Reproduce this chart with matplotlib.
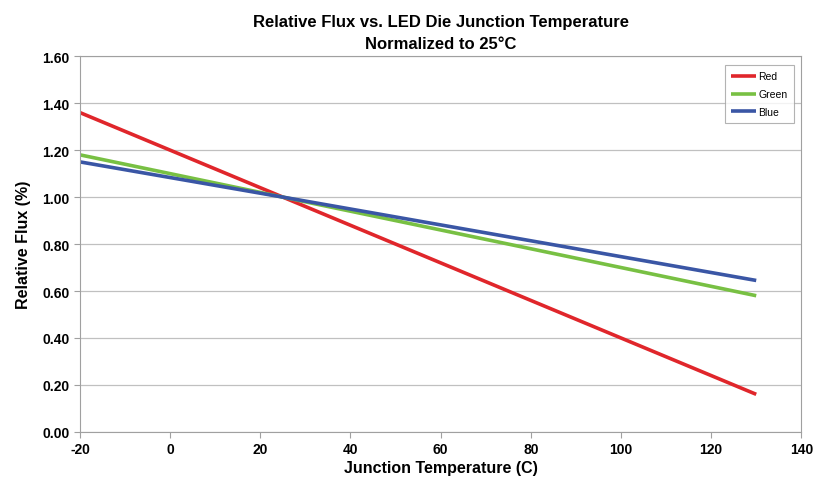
import matplotlib
matplotlib.use("Agg")
import matplotlib.pyplot as plt

temps = [-20, 25, 130]
red = [1.36, 1.00, 0.16]
green = [1.18, 1.00, 0.58]
blue = [1.15, 1.00, 0.645]
series_names = ["Red", "Green", "Blue"]
colors = ["#e0262b", "#78c043", "#3a56a5"]
xticks = [-20, 0, 20, 40, 60, 80, 100, 120, 140]
yticks = [0.0, 0.2, 0.4, 0.6, 0.8, 1.0, 1.2, 1.4, 1.6]

plt.rcParams['font.family'] = ['Liberation Sans', 'DejaVu Sans']
fig = plt.figure(figsize=(8.16, 4.81), dpi=100)
ax = fig.add_axes([0.098, 0.100, 0.884, 0.781])

for vals, name, c in zip([red, green, blue], series_names, colors):
    ax.plot(temps, vals, color=c, lw=2.6, label=name, solid_capstyle='butt')

ax.set_xlim(-20, 140)
ax.set_ylim(0, 1.6)
ax.set_xticks(xticks)
ax.set_yticks(yticks)
ax.set_xticklabels([str(t) for t in xticks], fontsize=10, fontweight='bold')
ax.set_yticklabels([f"{v:.2f}" for v in yticks], fontsize=10, fontweight='bold')
ax.yaxis.grid(True, color='#c0c0c0', lw=0.9)
ax.set_axisbelow(True)
for s in ax.spines.values():
    s.set_color('#a0a0a0')
ax.tick_params(axis='x', length=4, color='#a0a0a0', direction='out')
ax.tick_params(axis='y', length=4, color='#a0a0a0', direction='out')

ax.set_xlabel("Junction Temperature (C)", fontsize=11.5, fontweight='bold', labelpad=3)
ax.set_ylabel("Relative Flux (%)", fontsize=11.5, fontweight='bold', labelpad=8)
ax.set_title("Relative Flux vs. LED Die Junction Temperature\nNormalized to 25°C",
             fontsize=12, fontweight='bold', pad=6, linespacing=1.55)

leg = ax.legend(loc='upper right', fontsize=7.5, frameon=True, fancybox=False,
                handlelength=2.4, handletextpad=0.2, borderpad=0.6,
                labelspacing=0.75, bbox_to_anchor=(0.997, 0.99))
leg.get_frame().set_edgecolor('#a0a0a0')
leg.get_frame().set_linewidth(0.8)

fig.savefig("out.png", dpi=100)
